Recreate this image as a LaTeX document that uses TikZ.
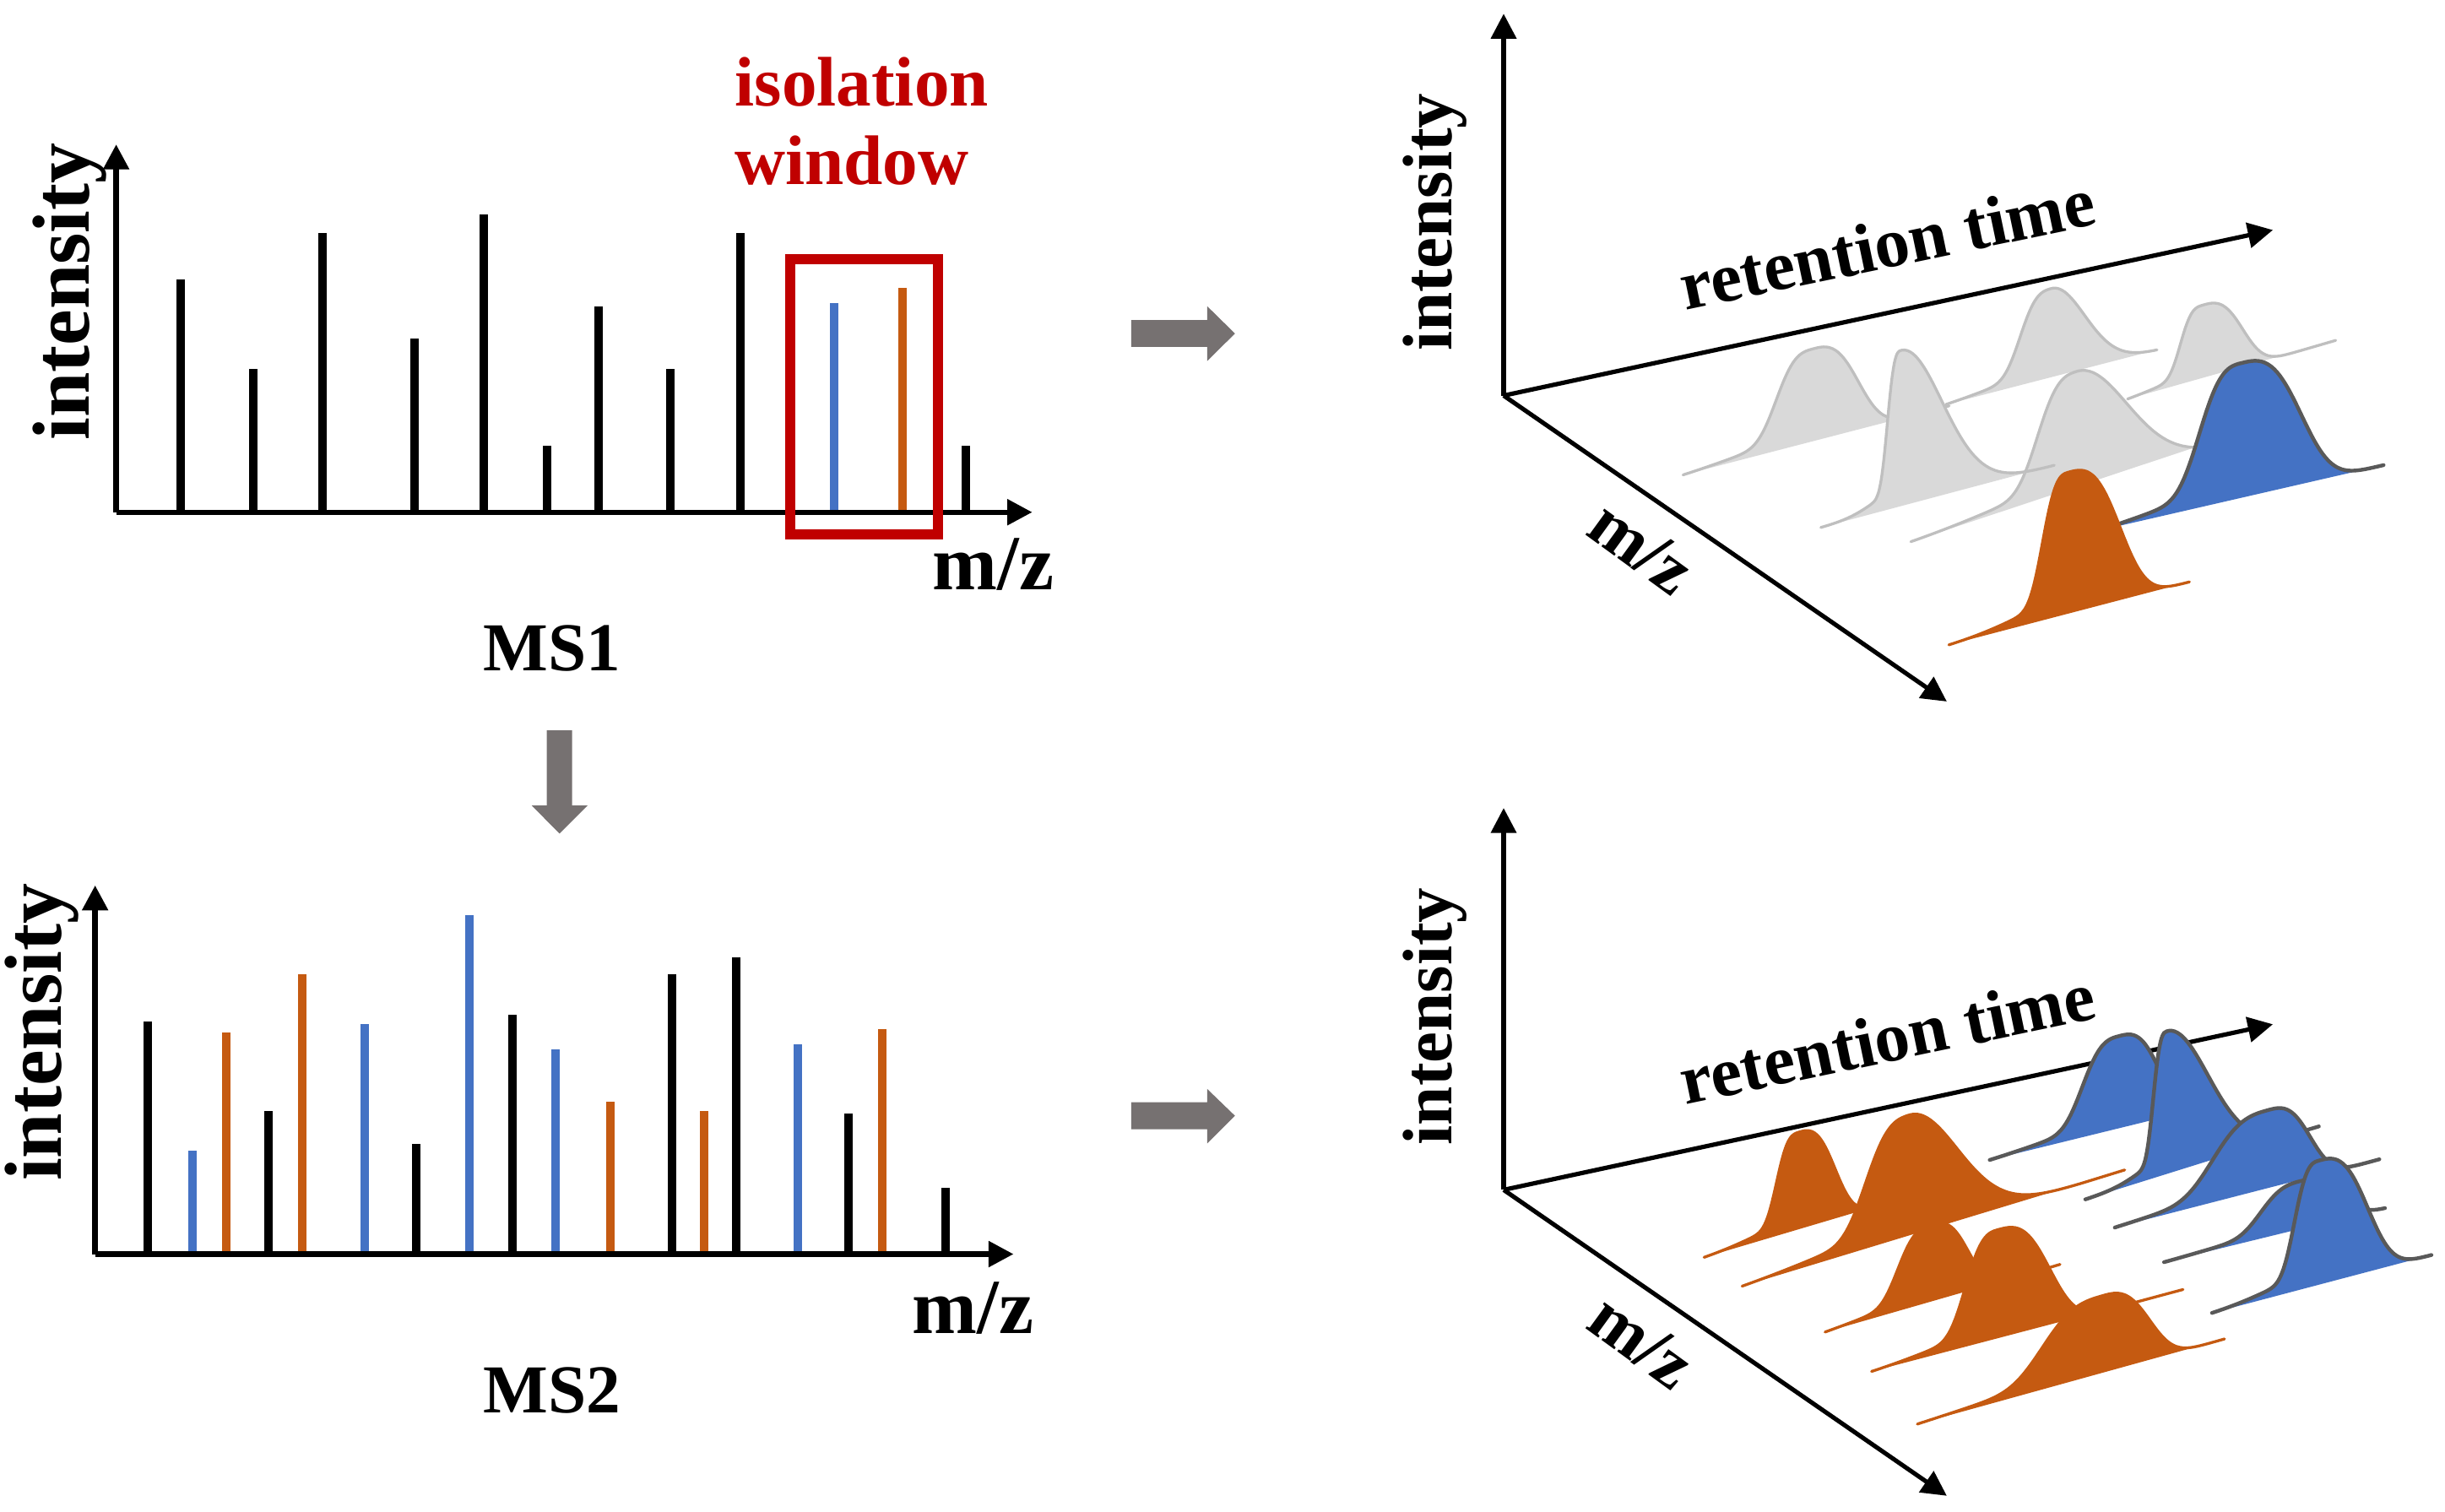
\documentclass[tikz,border=0pt]{standalone}
\usepackage{fontspec}
\setmainfont{Liberation Serif}
\usetikzlibrary{arrows.meta}
\definecolor{cRed}{HTML}{C00000}
\definecolor{cBlue}{HTML}{4472C4}
\definecolor{cOrange}{HTML}{C55A11}
\definecolor{cGrayFill}{HTML}{D9D9D9}
\definecolor{cGrayLine}{HTML}{BFBFBF}
\definecolor{cDark}{HTML}{595959}
\definecolor{cArrow}{HTML}{767171}
\newcommand\fBig{\fontsize{26bp}{30bp}\selectfont\bfseries}
\newcommand\fMz{\fontsize{25bp}{29bp}\selectfont\bfseries}
\newcommand\fMs{\fontsize{22bp}{26bp}\selectfont\bfseries}
\newcommand\fSm{\fontsize{22.5bp}{26bp}\selectfont\bfseries}
\newcommand\pkcol[3]{\tikzset{pkfill/.style={fill=#1},pkline/.style={draw=#2,line width=#3,line cap=round,line join=round}}}
% sx sy ex ey px h sl sr pr
\newcommand\pk[9]{%
  \fill[pkfill] plot[domain=#1:#3,samples=90,smooth,variable=\t]
    (\t,{#2+(\t-#1)/(#3-#1)*(#4-#2)-#6*pkf(\t-#5,#7,#8,#9)}) -- cycle;
  \draw[pkline] plot[domain=#1:#3,samples=90,smooth,variable=\t]
    (\t,{#2+(\t-#1)/(#3-#1)*(#4-#2)-#6*pkf(\t-#5,#7,#8,#9)});
}
\tikzset{
  declare function={
    pkl(\qd,\qs)=0.88*exp(-1*pow(min(abs(\qd)/\qs+0.001,2.6),3))+0.12*exp(-1*pow(min(abs(\qd)/(2.4*\qs)+0.001,2.6),2));
    pkr(\qd,\qs,\qp)=exp(-1*pow(min(abs(\qd)/\qs+0.001,2.6),\qp));
    pkf(\qd,\qa,\qb,\qp)=(\qd<0)*pkl(\qd,\qa)+(1-(\qd<0))*pkr(\qd,\qb,\qp);
  },
  axis/.style={line width=1.75bp,-{Triangle[length=8bp,width=8bp]}},
  axthree/.style={line width=1.4bp,-{Triangle[length=8bp,width=8bp]}},
  bar/.style={line width=2.7bp},
  blockarrow/.style={fill=cArrow},
}
\begin{document}
\begin{tikzpicture}[x=0.5bp,y=-0.5bp]
\useasboundingbox (0,0) rectangle (1568,969.2);

% ---------------- MS1 ----------------
\coordinate (o1) at (74.5,328.5);
\coordinate (y1) at (74.5,92.6);
\coordinate (x1) at (662,328.5);
\foreach \px/\h/\c in {116/179.4/black,162.5/236.8/black,207/149.4/black,266/217/black,
  310.5/137.4/black,351/286/black,384/196.5/black,430/236.8/black,475/149.4/black,
  535/194.4/cBlue,579/184.4/cOrange,619.6/286/black}
  \draw[bar,\c] (\px,328.5) -- (\px,\h);
\draw[axis] (o1) -- (y1);
\draw[axis] (o1) -- (x1);
\draw[cRed,line width=3.25bp] (507,166) rectangle (601.5,342.6);
\node[rotate=90,inner sep=0pt] (int1) at (44.7,187) {\fBig intensity};
\node[anchor=base,inner sep=0pt] (mz1) at (637,378) {\fMz m/z};
\node[anchor=base,inner sep=0pt] (ms1) at (354,430) {\fMs MS1};
\node[anchor=base west,inner sep=0pt,text=cRed] (iso) at (471,68) {\fSm isolation};
\node[anchor=base west,inner sep=0pt,text=cRed] (win) at (470.7,118.2) {\fSm window};

% ---------------- MS2 ----------------
\coordinate (o2) at (61,804.3);
\coordinate (y2) at (61,567.8);
\coordinate (x2) at (650,804.3);
\foreach \px/\h/\c in {94.8/654.9/black,123.2/737.8/cBlue,145.3/662.1/cOrange,172.4/712.6/black,
  194/624.6/cOrange,233.8/656.5/cBlue,266.7/733.8/black,301/587.1/cBlue,328.5/650.7/black,
  356.5/672.9/cBlue,391.2/706.8/cOrange,431/624.6/black,451.3/712.6/cOrange,472/614.1/black,
  511.7/669.6/cBlue,544.2/714.3/black,565.9/659.8/cOrange,606.5/761.6/black}
  \draw[bar,\c] (\px,804.3) -- (\px,\h);
\draw[axis] (o2) -- (y2);
\draw[axis] (o2) -- (x2);
\node[rotate=90,inner sep=0pt] (int2) at (27,662) {\fBig intensity};
\node[anchor=base,inner sep=0pt] (mz2) at (624,855) {\fMz m/z};
\node[anchor=base,inner sep=0pt] (ms2) at (354,906) {\fMs MS2};

% ---------------- block arrows ----------------
\fill[blockarrow] (725.5,205.2) -- (774.2,205.2) -- (774.2,196.4) -- (792,213.9) -- (774.2,231.5) -- (774.2,222.5) -- (725.5,222.5) -- cycle;
\fill[blockarrow] (725.5,706.9) -- (774.2,706.9) -- (774.2,698.4) -- (792,715.6) -- (774.2,733.3) -- (774.2,724.2) -- (725.5,724.2) -- cycle;
\fill[blockarrow] (350.6,468.4) -- (366.9,468.4) -- (366.9,516.6) -- (376.8,516.6) -- (358.8,534.6) -- (341,516.6) -- (350.6,516.6) -- cycle;

% ---------------- 3D top ----------------
\coordinate (t0) at (964.3,253.7);
\coordinate (tv) at (964.3,8.8);
\coordinate (tr) at (1457.6,147.5);
\coordinate (tm) at (1248.5,449.9);
\draw[axthree] (t0) -- (tv);
\draw[axthree] (t0) -- (tr);
\draw[axthree] (t0) -- (tm);
\node[rotate=90,inner sep=0pt] (int3) at (920,142.4) {\fSm intensity};
\node[rotate=11.8,anchor=base,inner sep=0pt] (rt3) at (1213.5,171.3) {\fSm retention time};
\node[rotate=-36,inner sep=0pt] (mz3) at (1053,351) {\fSm m/z};

\pkcol{cGrayFill}{cGrayLine}{0.9bp}
\pk{1079.3}{305.9}{1250}{260.3}{1162.3}{59.9}{26.6}{34}{3}
\pk{1248}{260.9}{1383.3}{224.7}{1315.6}{57.8}{23}{30}{2}
\pk{1364.4}{257.1}{1497.9}{218.3}{1412.2}{47.4}{16}{30}{3}
\pk{1225.4}{348.3}{1407.7}{291.4}{1331.9}{76.9}{29}{45}{2}
\pk{1167.7}{338.4}{1317.4}{298.5}{1219.1}{100}{10}{37}{2}
\pkcol{cBlue}{cDark}{1.2bp}
\pk{1345}{342.7}{1528.6}{298.3}{1437.5}{87.5}{31}{44}{3}
\pkcol{cOrange}{cOrange}{0.9bp}
\pk{1249.8}{414.2}{1404.1}{373.2}{1326.5}{91}{19}{38}{3}

% ---------------- 3D bottom ----------------
\coordinate (b0) at (964.3,763.1);
\coordinate (bv) at (964.3,518.2);
\coordinate (br) at (1457.6,656.9);
\coordinate (bm) at (1248.5,959.3);
\draw[axthree] (b0) -- (bv);
\draw[axthree] (b0) -- (br);
\draw[axthree] (b0) -- (bm);
\node[rotate=90,inner sep=0pt] (int4) at (920,651.8) {\fSm intensity};
\node[rotate=11.8,anchor=base,inner sep=0pt] (rt4) at (1213.5,680.7) {\fSm retention time};
\node[rotate=-36,inner sep=0pt] (mz4) at (1053,860.4) {\fSm m/z};

\pkcol{cOrange}{cOrange}{0.9bp}
\pk{1092.8}{807.0}{1240}{762.7}{1153.3}{62.6}{16}{27}{3}
\pk{1117.2}{826.2}{1362.6}{750.4}{1224.5}{78}{32}{43}{2}
\pk{1170.4}{855.8}{1321.1}{810.9}{1238}{50}{24}{28}{3}
\pk{1200.2}{880.7}{1400}{827.0}{1281.4}{70.3}{24}{38}{3}
\pk{1229.6}{915.0}{1426.6}{858.7}{1348.1}{50.1}{44}{35}{3}
\pkcol{cBlue}{cDark}{1.2bp}
\pk{1276}{745.3}{1420}{708.6}{1359}{59.7}{27}{30}{3}
\pk{1337.3}{769.3}{1487.1}{722.5}{1389.6}{91.6}{10}{37}{2}
\pk{1356.2}{789.5}{1525.9}{743.5}{1454.6}{50.9}{41}{31}{3}
\pk{1387.8}{810.3}{1529.5}{774.9}{1476}{31}{30}{30}{3}
\pk{1418.5}{842.8}{1559.3}{804.9}{1487.1}{80}{18}{36}{3}
\end{tikzpicture}
\end{document}
